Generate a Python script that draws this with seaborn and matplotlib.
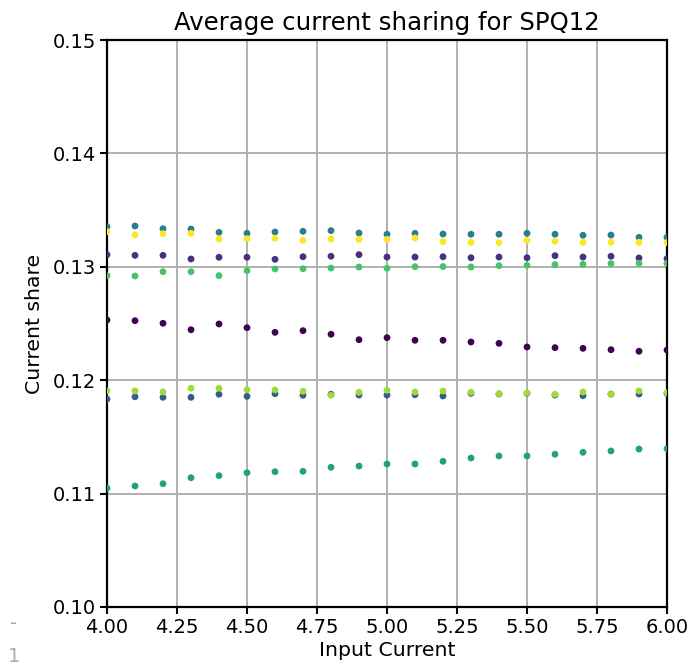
import numpy as np
import pandas as pd
import matplotlib
matplotlib.use("Agg")
import matplotlib.pyplot as plt
import seaborn as sns

input_current = [4.0, 4.1, 4.2, 4.3, 4.4, 4.5, 4.6, 4.7, 4.8, 4.9, 5.0,
                 5.1, 5.2, 5.3, 5.4, 5.5, 5.6, 5.7, 5.8, 5.9, 6.0]

phase_0 = [0.12531, 0.12525, 0.12502, 0.12445, 0.12496, 0.12463, 0.12422, 0.12437, 0.12405, 0.12357, 0.12375,
           0.12352, 0.12352, 0.12337, 0.12325, 0.12293, 0.12287, 0.12281, 0.12269, 0.12255, 0.12266]
phase_1 = [0.13107, 0.13101, 0.13101, 0.13069, 0.13084, 0.13084, 0.13066, 0.13089, 0.13093, 0.13107, 0.13086,
           0.13086, 0.13089, 0.13080, 0.13086, 0.13080, 0.13098, 0.13086, 0.13093, 0.13078, 0.13072]
phase_2 = [0.11834, 0.11854, 0.11849, 0.11849, 0.11876, 0.11858, 0.11881, 0.11867, 0.11876, 0.11869, 0.11869,
           0.11872, 0.11861, 0.11884, 0.11878, 0.11884, 0.11869, 0.11863, 0.11878, 0.11878, 0.11884]
phase_3 = [0.13354, 0.13360, 0.13336, 0.13333, 0.13304, 0.13295, 0.13307, 0.13313, 0.13319, 0.13298, 0.13287,
           0.13295, 0.13289, 0.13287, 0.13287, 0.13295, 0.13287, 0.13278, 0.13280, 0.13260, 0.13260]
phase_4 = [0.11047, 0.11067, 0.11087, 0.11140, 0.11158, 0.11184, 0.11193, 0.11197, 0.11232, 0.11243, 0.11261,
           0.11261, 0.11285, 0.11314, 0.11332, 0.11332, 0.11347, 0.11364, 0.11376, 0.11393, 0.11396]
phase_5 = [0.12922, 0.12919, 0.12957, 0.12957, 0.12922, 0.12966, 0.12981, 0.12983, 0.12989, 0.12998, 0.12987,
           0.13001, 0.13002, 0.12998, 0.13010, 0.13013, 0.13019, 0.13022, 0.13028, 0.13031, 0.13031]
phase_6 = [0.11907, 0.11905, 0.11896, 0.11929, 0.11929, 0.11916, 0.11914, 0.11902, 0.11867, 0.11893, 0.11911,
           0.11896, 0.11905, 0.11893, 0.11881, 0.11887, 0.11876, 0.11896, 0.11876, 0.11905, 0.11890]
phase_7 = [0.13310, 0.13280, 0.13292, 0.13295, 0.13245, 0.13248, 0.13251, 0.13234, 0.13245, 0.13242, 0.13242,
           0.13254, 0.13221, 0.13216, 0.13213, 0.13234, 0.13225, 0.13216, 0.13216, 0.13216, 0.13213]

phase_names = ["0", "1", "2", "3", "4", "5", "6", "7"]
all_series = [phase_0, phase_1, phase_2, phase_3, phase_4, phase_5, phase_6, phase_7]

x_ticks = [4.00, 4.25, 4.50, 4.75, 5.00, 5.25, 5.50, 5.75, 6.00]
y_ticks = [0.10, 0.11, 0.12, 0.13, 0.14, 0.15]

rows = []
for name, vals in zip(phase_names, all_series):
    for xv, yv in zip(input_current, vals):
        rows.append({"Input Current": xv, "Current share": yv, "phase": name})
df = pd.DataFrame(rows)

sns.set_theme(style="white")
plt.rcParams['font.family'] = ['DejaVu Sans']

cmap = matplotlib.colormaps["viridis"]
palette = [cmap(v) for v in np.linspace(0, 1, 8)]

fig = plt.figure(figsize=(6.93, 6.69), dpi=100)
ax = fig.add_axes([107 / 693, 1 - 607 / 669, 560 / 693, 567 / 669])

sns.scatterplot(data=df, x="Input Current", y="Current share", hue="phase",
                hue_order=phase_names, palette=palette, s=24, linewidth=0,
                legend=False, ax=ax, zorder=3)

ax.set_xlim(4.0, 6.0)
ax.set_ylim(0.10, 0.15)
ax.set_xticks(x_ticks)
ax.set_yticks(y_ticks)
ax.set_xticklabels([f"{t:.2f}" for t in x_ticks])
ax.set_yticklabels([f"{t:.2f}" for t in y_ticks])
ax.grid(True, color="#b0b0b0", linewidth=1.4, zorder=0)
ax.set_axisbelow(True)
for sp in ax.spines.values():
    sp.set_color("black")
    sp.set_linewidth(1.6)
ax.tick_params(axis="both", direction="out", length=5, width=1.5,
               color="black", labelsize=14, labelcolor="black",
               bottom=True, left=True, pad=3)
ax.set_xlabel("Input Current", fontsize=14.7, color="black", labelpad=3)
ax.set_ylabel("Current share", fontsize=14.7, color="black", labelpad=6)
ax.set_title("Average current sharing for SPQ12", fontsize=17.6, color="black", pad=7)

fig.text(14 / 693, 1 - 624 / 669, "-", color="#aaaaaa", fontsize=14, ha="center", va="center")
fig.text(14 / 693, 1 - 656 / 669, "1", color="#aaaaaa", fontsize=14, ha="center", va="center")

fig.savefig("out.png", dpi=100, facecolor="white")
